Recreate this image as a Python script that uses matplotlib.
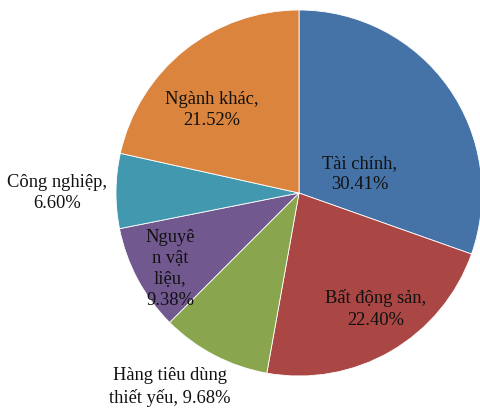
import matplotlib
matplotlib.use("Agg")
import matplotlib.pyplot as plt

categories = ["Tài chính", "Bất động sản", "Hàng tiêu dùng thiết yếu", "Nguyên vật liệu", "Công nghiệp", "Ngành khác"]
values = [30.41, 22.40, 9.68, 9.38, 6.60, 21.52]
label_texts = ["Tài chính,\n30.41%", "Bất động sản,\n22.40%", "Hàng tiêu dùng\nthiết yếu, 9.68%",
               "Nguyê\nn vật\nliệu,\n9.38%", "Công nghiệp,\n6.60%", "Ngành khác,\n21.52%"]
colors = ["#4573A7", "#AA4643", "#89A54E", "#71588F", "#4198AF", "#DB843D"]

W, H = 480, 408
fig = plt.figure(figsize=(W / 100, H / 100), dpi=100)
ax = fig.add_axes([0, 0, 1, 1])

cx, cy, r = 299, H - 193, 183
ax.pie(values, colors=colors, startangle=90, counterclock=False, center=(cx, cy), radius=r,
       wedgeprops=dict(edgecolor="white", linewidth=0.6), frame=True)
ax.set_xlim(0, W)
ax.set_ylim(0, H)
ax.set_aspect("equal")
ax.axis("off")

label_pos = [(360, 174), (376, 309), (170, 387), (170, 269), (57, 193), (212, 110)]
for txt, (x, y) in zip(label_texts, label_pos):
    ax.text(x, H - y, txt, ha="center", va="center", fontsize=13.3, family="Liberation Serif",
            color="#111111", linespacing=1.32)

fig.savefig("out.png", dpi=100)
